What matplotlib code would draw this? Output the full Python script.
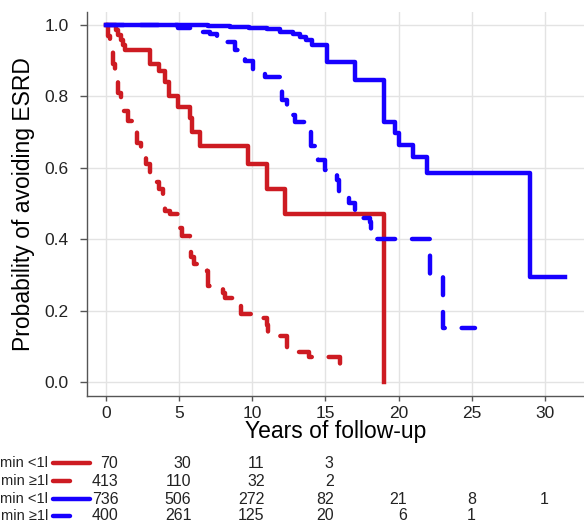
import matplotlib
matplotlib.use("Agg")
import matplotlib.pyplot as plt
from matplotlib.lines import Line2D
from matplotlib.transforms import blended_transform_factory, ScaledTranslation

# Kaplan-Meier step curves
t_red_solid = [0, 0.7, 0.85, 1.0, 1.15, 1.3, 3.0, 3.6, 4.0, 4.3, 4.9, 5.75, 5.9, 6.4, 9.7, 11.0, 12.2, 19.0]
s_red_solid = [1.0, 0.986, 0.971, 0.957, 0.943, 0.93, 0.89, 0.87, 0.84, 0.80, 0.77, 0.74, 0.70, 0.66, 0.61, 0.54, 0.47, 0.0]

t_red_dash = [0, 0.15, 0.3, 0.45, 0.6, 0.8, 1.0, 1.2, 1.5, 1.8, 2.1, 2.4, 2.7, 3.0, 3.3, 3.6, 3.9, 4.05,
              4.4, 4.9, 5.0, 5.2, 5.75, 5.8, 6.0, 6.9, 6.95, 7.0, 8.0, 8.1, 8.7, 9.2, 10.2, 11.0, 11.1,
              11.7, 12.35, 12.4, 13.1, 13.9, 16.0, 16.1]
s_red_dash = [1.0, 0.97, 0.93, 0.89, 0.85, 0.81, 0.78, 0.76, 0.73, 0.70, 0.67, 0.64, 0.61, 0.58, 0.56, 0.54, 0.52, 0.48,
              0.47, 0.45, 0.43, 0.41, 0.37, 0.35, 0.33, 0.31, 0.29, 0.27, 0.25, 0.235, 0.22, 0.19, 0.18, 0.16, 0.14,
              0.13, 0.11, 0.09, 0.085, 0.07, 0.04, 0.04]

t_blue_solid = [0, 7.0, 8.5, 9.8, 11.0, 11.9, 12.8, 13.26, 13.7, 14.06, 15.08, 17.05, 19.0, 19.75, 20.05,
                21.0, 21.95, 29.0, 31.4]
s_blue_solid = [1.0, 0.997, 0.994, 0.991, 0.988, 0.98, 0.975, 0.967, 0.958, 0.944, 0.897, 0.846, 0.729, 0.697, 0.664,
                0.631, 0.586, 0.295, 0.295]

t_blue_dash = [0, 4.95, 5.9, 6.0, 7.1, 7.6, 8.1, 8.8, 9.5, 10.05, 10.9, 11.9, 12.0, 12.35, 12.9, 13.9, 14.0,
               14.5, 14.97, 15.77, 15.9, 16.6, 17.0, 18.05, 18.1, 22.15, 23.0, 25.2]
s_blue_dash = [1.0, 0.99, 0.985, 0.98, 0.975, 0.965, 0.953, 0.93, 0.90, 0.874, 0.855, 0.837, 0.79, 0.748, 0.729, 0.70,
               0.66, 0.622, 0.594, 0.566, 0.529, 0.50, 0.459, 0.449, 0.40, 0.30, 0.15, 0.15]

# numbers at risk
risk_times = [0, 5, 10, 15, 20, 25, 30]
risk_labels = ["min <1l", "min \u22651l", "min <1l", "min \u22651l"]
risk_red_solid = ["70", "30", "11", "3"]
risk_red_dash = ["413", "110", "32", "2"]
risk_blue_solid = ["736", "506", "272", "82", "21", "8", "1"]
risk_blue_dash = ["400", "261", "125", "20", "6", "1"]

RED = "#cd1b22"
BLUE = "#1700ff"

plt.rcParams['font.family'] = ['Liberation Sans', 'DejaVu Sans']

W, H = 584, 523
fig = plt.figure(figsize=(W / 100, H / 100), dpi=100)
ax = fig.add_axes([87 / W, 1 - 396 / H, (W - 87) / W, (396 - 12) / H])

curves = [
    (t_red_solid, s_red_solid, RED, False),
    (t_red_dash, s_red_dash, RED, True),
    (t_blue_solid, s_blue_solid, BLUE, False),
    (t_blue_dash, s_blue_dash, BLUE, True),
]
for t, s, col, dashed in curves:
    line, = ax.step(t, s, where='post', color=col, lw=3.2, zorder=3)
    if dashed:
        line.set_dashes((4.0, 3.8))
        line.set_dash_capstyle('round')

ax.set_xlim(-1.3, 32.67)
ax.set_ylim(-0.039, 1.036)
ax.set_xticks(risk_times)
ax.set_yticks([0.0, 0.2, 0.4, 0.6, 0.8, 1.0])
ax.set_yticklabels(["0.0", "0.2", "0.4", "0.6", "0.8", "1.0"])
ax.grid(True, color='#e3e3e3', lw=1.0, zorder=0)
ax.set_axisbelow(True)
for side in ['top', 'right']:
    ax.spines[side].set_visible(False)
for side in ['left', 'bottom']:
    ax.spines[side].set_color('#555555')
    ax.spines[side].set_linewidth(1.0)
ax.tick_params(axis='y', length=5, width=1, color='#555555', pad=8, labelsize=12.5, labelcolor='#222222')
ax.tick_params(axis='x', length=3.5, width=1, color='#555555', pad=4, labelsize=12.5, labelcolor='#222222')
ax.set_xlabel('Years of follow-up', fontsize=16.5, labelpad=-1)
ax.set_ylabel('Probability of avoiding ESRD', fontsize=16.5, labelpad=7)

# risk table below the axis
row_y = [463, 481, 499, 516]
rows = [
    (risk_red_solid, RED, False),
    (risk_red_dash, RED, True),
    (risk_blue_solid, BLUE, False),
    (risk_blue_dash, BLUE, True),
]
trans = blended_transform_factory(ax.transData, fig.transFigure)
all_rows = [r[0] for r in rows]
for (vals, col, dashed), label, y in zip(rows, risk_labels, row_y):
    fy = 1 - y / H
    fig.text(48.5 / W, fy, label, ha='right', va='center', fontsize=10.5, color='#222222')
    x_end = 70 if dashed else 89.5
    fig.add_artist(Line2D([53 / W, x_end / W], [fy, fy], color=col, lw=3.2,
                          solid_capstyle='round', transform=fig.transFigure))
    for i, v in enumerate(vals):
        widest = max(len(r[i]) for r in all_rows if i < len(r))
        off = widest * 4.1 / 100  # half the column width, in inches
        ax.text(risk_times[i], fy, v, ha='right', va='center', fontsize=11.5, color='#222222',
                transform=trans + ScaledTranslation(off, 0, fig.dpi_scale_trans), clip_on=False)

fig.savefig('out.png', dpi=100)
